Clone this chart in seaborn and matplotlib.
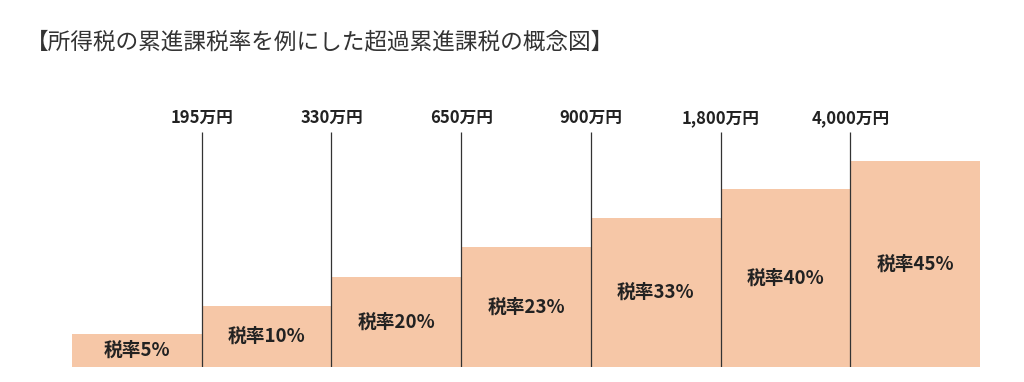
import matplotlib
matplotlib.use("Agg")
import matplotlib.pyplot as plt
import seaborn as sns
import pandas as pd

# tax brackets (conceptual step heights)
rate_labels = ["税率5%", "税率10%", "税率20%", "税率23%", "税率33%", "税率40%", "税率45%"]
step_heights = [33, 61, 90, 120, 149, 178, 206]
threshold_labels = ["195万円", "330万円", "650万円", "900万円", "1,800万円", "4,000万円"]
line_top = 235
label_y = 249

sns.set_theme(style="white")
plt.rcParams['font.family'] = ['Noto Sans CJK JP', 'DejaVu Sans']

df = pd.DataFrame({"rate": rate_labels, "height": step_heights})

fig = plt.figure(figsize=(10.24, 3.82), dpi=100)
ax = fig.add_axes([72 / 1024, 15 / 382, 908 / 1024, 267 / 382])

sns.barplot(data=df, x="rate", y="height", color="#F6C7A7", saturation=1,
            width=1, ax=ax, edgecolor="none", linewidth=0)

# bracket boundaries
bounds = [i + 0.5 for i in range(len(threshold_labels))]
ax.vlines(bounds, 0, line_top, color="#333333", linewidth=0.9)
for xb, lab in zip(bounds, threshold_labels):
    ax.text(xb, label_y, lab, ha="center", va="center", fontsize=12,
            fontweight="bold", color="#222222")

# rate labels in the middle of each bar
for i, (lab, h) in enumerate(zip(rate_labels, step_heights)):
    ax.text(i, h / 2, lab, ha="center", va="center", fontsize=13.5,
            fontweight="bold", color="#222222")

ax.set_xlim(-0.5, len(rate_labels) - 0.5)
ax.set_ylim(0, 267)
ax.axis("off")

fig.text(26 / 1024, 1 - 42 / 382, "【所得税の累進課税率を例にした超過累進課税の概念図】",
         ha="left", va="center", fontsize=16.3, color="#333333")

plt.savefig("out.png", dpi=100)
plt.close()
